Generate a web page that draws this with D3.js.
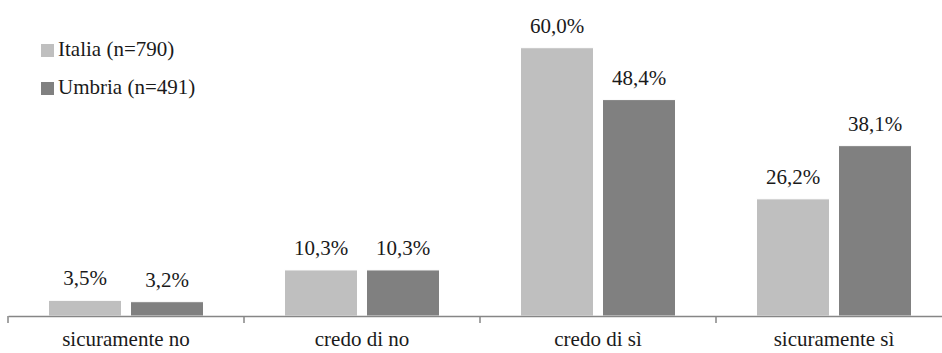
<!DOCTYPE html>
<html><head><meta charset="utf-8">
<script src="https://cdn.jsdelivr.net/npm/d3@7"></script>
<style>svg text{font-family:'Liberation Serif','Times New Roman',serif !important;}</style>
</head><body style="margin:0;background:#fff"><svg id="c" width="942" height="353"></svg>
<script>
const categories = ["sicuramente no","credo di no","credo di sì","sicuramente sì"];
const seriesNames = ["Italia (n=790)","Umbria (n=491)"];
const italia = [3.5,10.3,60.0,26.2];
const umbria = [3.2,10.3,48.4,38.1];
const colors = ["#BFBFBF","#808080"];

const svg = d3.select("#c");
const fs = "21px";
const FONT = "'Liberation Serif', 'Times New Roman', serif";
const x = d3.scaleBand().domain(categories).range([8,952]).paddingInner(0).paddingOuter(0);
const y = d3.scaleLinear().domain([0,70]).range([316,3]);
const inner = d3.scaleBand().domain([0,1]).range([40.5,x.bandwidth()-40.5]).paddingInner(9/82).paddingOuter(0);

const data = categories.map((c,i)=>({c, vals:[italia[i],umbria[i]]}));
const g = svg.selectAll("g.cat").data(data).join("g").attr("transform",d=>`translate(${x(d.c)},0)`);
g.selectAll("rect").data(d=>d.vals).join("rect")
  .attr("x",(v,j)=>inner(j)).attr("width",inner.bandwidth())
  .attr("y",v=>y(v)).attr("height",v=>y(0)-y(v))
  .attr("fill",(v,j)=>colors[j]).attr("stroke","#fff").attr("stroke-width",1);
g.selectAll("text.lab").data(d=>d.vals).join("text").attr("class","lab")
  .attr("x",(v,j)=>inner(j)+inner.bandwidth()/2).attr("y",v=>y(v)-15)
  .attr("text-anchor","middle").style("font-size",fs).style("font-family",FONT,"important").attr("fill","#1a1a1a")
  .text(v=>v.toFixed(1).replace(".",",")+"%");

const ax = svg.append("g").attr("transform","translate(0,316)")
  .call(d3.axisBottom(x).tickSize(0).tickPadding(0).tickFormat(""));
ax.select(".domain").attr("stroke","#868686").attr("stroke-width",1.5);
const ticksX = categories.map(c=>x(c));
ax.selectAll("line.t").data(ticksX).join("line").attr("class","t")
  .attr("x1",d=>d).attr("x2",d=>d).attr("y1",0).attr("y2",7).attr("stroke","#868686").attr("stroke-width",1.5);
svg.selectAll("text.cat").data(categories).join("text").attr("class","cat")
  .attr("x",d=>x(d)+x.bandwidth()/2).attr("y",346).attr("text-anchor","middle")
  .style("font-size",fs).style("font-family",FONT,"important").attr("fill","#1a1a1a").text(d=>d);

const leg = svg.selectAll("g.leg").data(seriesNames).join("g").attr("class","leg")
  .attr("transform",(d,i)=>`translate(41,${44+i*38})`);
leg.append("rect").attr("width",13).attr("height",13).attr("fill",(d,i)=>colors[i]);
leg.append("text").attr("x",17).attr("y",12).style("font-size",fs).style("font-family",FONT,"important").attr("fill","#1a1a1a").text(d=>d);
</script></body></html>
